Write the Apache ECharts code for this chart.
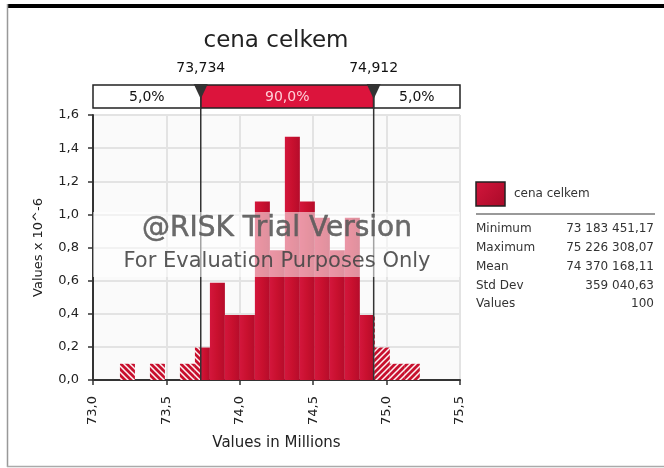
<!DOCTYPE html>
<html><head><meta charset="utf-8">
<script src="https://cdn.jsdelivr.net/npm/echarts@6/dist/echarts.min.js"></script>
<style>html,body{margin:0;padding:0;background:#fff}#c{width:664px;height:468px}</style>
</head><body><div id="c"></div>
<script>
// ---- data ----
const seriesName = 'cena celkem';
const binStart = 73.1835;          // minimum (millions)
const binWidth = 0.10214;          // (max - min) / 20
const binHeights = [0.098, 0, 0.098, 0, 0.098, 0.196, 0.587, 0.392, 0.392, 1.077,
                    0.783, 1.469, 1.077, 0.979, 0.783, 0.979, 0.392, 0.196, 0.098, 0.098];
const pLow = 73.734, pHigh = 74.912;
const markerLabels = ['73,734', '74,912'];
const pctLabels = ['5,0%', '90,0%', '5,0%'];
const xMin = 73, xMax = 75.5, xStep = 0.5;
const yMin = 0, yMax = 1.6, yStep = 0.2;
const statNames = ['Minimum', 'Maximum', 'Mean', 'Std Dev', 'Values'];
const statValues = ['73 183 451,17', '75 226 308,07', '74 370 168,11', '359 040,63', '100'];

const bins = binHeights.map((h, i) => [binStart + i * binWidth, binStart + (i + 1) * binWidth, h]);

const FONT = '"DejaVu Sans", Verdana, sans-serif';
const RED = '#c8102e';

function makeHatch(dir) {
  const c = document.createElement('canvas');
  c.width = 6; c.height = 6;
  const g = c.getContext('2d');
  g.fillStyle = RED; g.fillRect(0, 0, 6, 6);
  g.strokeStyle = 'rgba(255,255,255,0.95)'; g.lineWidth = 1.5;
  g.beginPath();
  if (dir > 0) { g.moveTo(-1, 7); g.lineTo(7, -1); g.moveTo(-1, 1); g.lineTo(1, -1); g.moveTo(5, 7); g.lineTo(7, 5); }
  else { g.moveTo(-1, -1); g.lineTo(7, 7); g.moveTo(5, -1); g.lineTo(7, 1); g.moveTo(-1, 5); g.lineTo(1, 7); }
  g.stroke();
  return c;
}
const hatchL = { image: makeHatch(-1), repeat: 'repeat' };
const hatchR = { image: makeHatch(1), repeat: 'repeat' };
const solidFill = new echarts.graphic.LinearGradient(0, 0, 1, 0, [
  { offset: 0, color: '#d3163c' }, { offset: 0.5, color: '#c8102e' }, { offset: 1, color: '#b50c2b' }]);

function renderBars(params, api) {
  const x0 = api.value(0), x1 = api.value(1), h = api.value(2);
  if (!(h > 0)) return null;
  const segs = [];
  if (x0 < pLow) segs.push([x0, Math.min(x1, pLow), hatchL]);
  if (x1 > pLow && x0 < pHigh) segs.push([Math.max(x0, pLow), Math.min(x1, pHigh), solidFill]);
  if (x1 > pHigh) segs.push([Math.max(x0, pHigh), x1, hatchR]);
  return {
    type: 'group',
    children: segs.map(s => {
      const a = api.coord([s[0], 0]), b = api.coord([s[1], h]);
      return { type: 'rect', shape: { x: a[0], y: b[1], width: b[0] - a[0], height: a[1] - b[1] }, style: { fill: s[2] } };
    })
  };
}

function renderPct(params, api) {
  const a = api.coord([api.value(0), 0]), b = api.coord([api.value(1), 0]);
  const top = params.coordSys.y - 30, hgt = 23;
  const mid = params.dataIndex === 1;
  return {
    type: 'group',
    children: [
      { type: 'rect', shape: { x: a[0], y: top, width: b[0] - a[0], height: hgt },
        style: { fill: mid ? '#dc143c' : '#fff', stroke: '#222', lineWidth: 1.5 } },
      { type: 'text', style: { text: pctLabels[params.dataIndex], x: (a[0] + b[0]) / 2, y: top + hgt / 2 + 1,
        textAlign: 'center', textVerticalAlign: 'middle', font: '14px ' + FONT, fill: mid ? '#ffd0d8' : '#111' } }
    ]
  };
}

function renderMarker(params, api) {
  const p = api.coord([api.value(0), 0]);
  const x = p[0], top = params.coordSys.y - 30;
  return {
    type: 'group',
    children: [
      { type: 'line', shape: { x1: x, y1: top, x2: x, y2: p[1] }, style: { stroke: '#333', lineWidth: 1.5 } },
      { type: 'polygon', shape: { points: [[x - 7, top - 1], [x + 7, top - 1], [x, top + 14]] }, style: { fill: '#333' } },
      { type: 'text', style: { text: markerLabels[params.dataIndex], x: x, y: top - 17,
        textAlign: 'center', textVerticalAlign: 'middle', font: '14px ' + FONT, fill: '#111' } }
    ]
  };
}

const fmt = v => v.toFixed(1).replace('.', ',');

const graphics = [
  { type: 'rect', shape: { x: 7, y: 4, width: 657, height: 4 }, style: { fill: '#000' }, silent: true },
  { type: 'line', shape: { x1: 7.5, y1: 4, x2: 7.5, y2: 467 }, style: { stroke: '#999', lineWidth: 1.5 } },
  { type: 'line', shape: { x1: 7, y1: 466.5, x2: 664, y2: 466.5 }, style: { stroke: '#aaa', lineWidth: 1.5 } },
  { type: 'text', style: { text: seriesName, x: 276, y: 41, textAlign: 'center', textVerticalAlign: 'middle',
    font: '23px ' + FONT, fill: '#222' } },
  // watermark
  { type: 'rect', z: 100, shape: { x: 93, y: 212, width: 367, height: 65 }, style: { fill: 'rgba(255,255,255,0.55)' } },
  { type: 'text', z: 101, style: { text: '@RISK Trial Version', x: 277, y: 229, textAlign: 'center', textVerticalAlign: 'middle',
    font: '28px ' + FONT, fill: 'rgba(90,90,90,0.9)', stroke: 'rgba(90,90,90,0.9)', lineWidth: 0.5 } },
  { type: 'text', z: 101, style: { text: 'For Evaluation Purposes Only', x: 277, y: 262, textAlign: 'center', textVerticalAlign: 'middle',
    font: '21px ' + FONT, fill: 'rgba(70,70,70,0.9)' } },
  // legend
  { type: 'rect', shape: { x: 476, y: 182, width: 29, height: 24 },
    style: { fill: new echarts.graphic.LinearGradient(0, 0, 1, 1, [{ offset: 0, color: '#d3163c' }, { offset: 1, color: '#a80a28' }]), stroke: '#222', lineWidth: 1.5 } },
  { type: 'text', style: { text: seriesName, x: 514, y: 194, textVerticalAlign: 'middle', font: '12px ' + FONT, fill: '#333' } },
  { type: 'line', shape: { x1: 476, y1: 214, x2: 655, y2: 214 }, style: { stroke: '#777', lineWidth: 1.5 } }
];
statNames.forEach((n, i) => {
  const y = 229.3 + i * 18.7;
  graphics.push({ type: 'text', style: { text: n, x: 476, y: y, textVerticalAlign: 'middle', font: '12px ' + FONT, fill: '#333' } });
  graphics.push({ type: 'text', style: { text: statValues[i], x: 654, y: y, textAlign: 'right', textVerticalAlign: 'middle', font: '12px ' + FONT, fill: '#333' } });
});

const chart = echarts.init(document.getElementById('c'));
chart.setOption({
  animation: false,
  backgroundColor: '#fff',
  grid: { left: 93, right: 204, top: 115, bottom: 88, show: true, backgroundColor: '#fafafa', borderWidth: 0 },
  xAxis: {
    type: 'value', min: xMin, max: xMax, interval: xStep,
    name: 'Values in Millions', nameLocation: 'middle', nameGap: 56,
    nameTextStyle: { fontFamily: FONT, fontSize: 15, color: '#222' },
    axisLine: { show: true, onZero: false, lineStyle: { color: '#333', width: 2 } },
    axisTick: { show: true, length: 5, lineStyle: { color: '#333', width: 1.5 } },
    axisLabel: { rotate: 90, margin: 16, formatter: fmt, fontFamily: FONT, fontSize: 13, color: '#222' },
    splitLine: { show: true, lineStyle: { color: '#e3e3e3', width: 2 } }
  },
  yAxis: {
    type: 'value', min: yMin, max: yMax, interval: yStep,
    name: 'Values x 10^-6', nameLocation: 'middle', nameGap: 48,
    nameTextStyle: { fontFamily: FONT, fontSize: 13, color: '#222' },
    axisLine: { show: true, lineStyle: { color: '#333', width: 2 } },
    axisTick: { show: true, length: 5, lineStyle: { color: '#333', width: 1.5 } },
    axisLabel: { margin: 14, formatter: fmt, fontFamily: FONT, fontSize: 13, color: '#222' },
    splitLine: { show: true, lineStyle: { color: '#e3e3e3', width: 2 } }
  },
  graphic: graphics,
  series: [
    { type: 'custom', name: seriesName, renderItem: renderBars, data: bins, encode: { x: [0, 1], y: 2 }, z: 2 },
    { type: 'custom', name: 'pct', renderItem: renderPct, data: [[xMin, pLow], [pLow, pHigh], [pHigh, xMax]], encode: { x: [0, 1] }, z: 3, clip: false },
    { type: 'custom', name: 'markers', renderItem: renderMarker, data: [[pLow], [pHigh]], encode: { x: 0 }, z: 4, clip: false }
  ]
});
</script></body></html>
